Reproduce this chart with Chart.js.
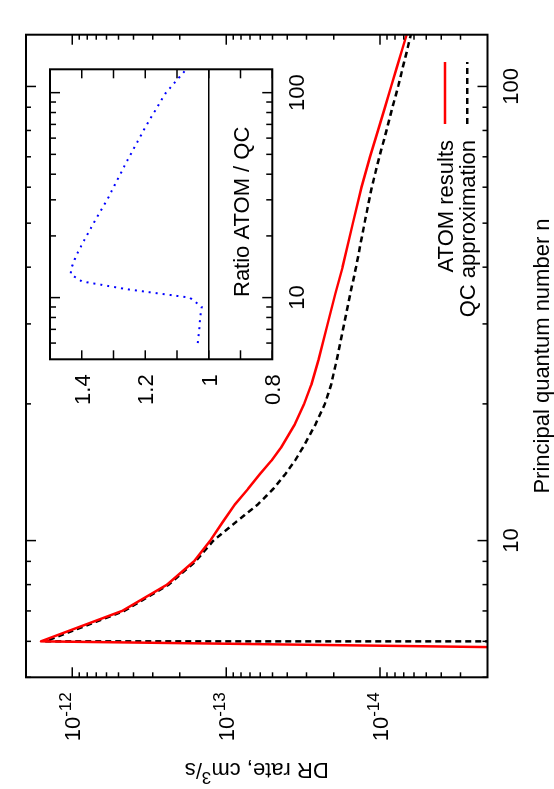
<!DOCTYPE html>
<html>
<head>
<meta charset="utf-8">
<script src="https://cdn.jsdelivr.net/npm/chart.js@4.4.1/dist/chart.umd.min.js"></script>
<style>
html, body { margin: 0; padding: 0; background: #fff; overflow: hidden; }
/* the figure is drawn landscape and turned a quarter turn, like the original */
#wrap { position: absolute; left: 0; top: 0; width: 789px; height: 554px;
        transform-origin: 0 0; transform: translateY(789px) rotate(-90deg); }
#wrap canvas { position: absolute; left: 0; top: 0; }
</style>
</head>
<body>
<div id="wrap">
  <canvas id="mainChart" width="789" height="554"></canvas>
  <canvas id="insetChart" width="789" height="554"></canvas>
</div>
<script>
// DR rate vs principal quantum number n
const nAtom = [5, 6, 7, 8, 9, 10, 11, 12, 13, 14, 15, 16, 18, 20, 22, 25, 30, 35, 40, 50, 60, 70, 80, 90, 100, 110, 120, 130];
const rateAtom = [1e-30, 1.6e-12, 4.75e-13, 2.42e-13, 1.62e-13, 1.27e-13, 1.05e-13, 8.8e-14, 7.2e-14, 6.04e-14, 5.08e-14, 4.41e-14,
                  3.59e-14, 3.11e-14, 2.80e-14, 2.51e-14, 2.19e-14, 1.95e-14, 1.75e-14, 1.50e-14, 1.32e-14, 1.16e-14,
                  1.03e-14, 9.28e-15, 8.46e-15, 7.78e-15, 7.2e-15, 6.71e-15];
const nQC = [6, 6, 7, 8, 9, 10, 11, 12, 13, 14, 15, 16, 18, 20, 22, 25, 30, 35, 40, 50, 60, 70, 80, 90, 100, 110, 120, 130];
const rateQC = [1e-30, 1.5e-12, 4.6e-13, 2.36e-13, 1.58e-13, 1.21e-13, 8.6e-14, 6.24e-14, 4.94e-14, 4.13e-14, 3.57e-14, 3.18e-14,
                2.63e-14, 2.28e-14, 2.08e-14, 1.91e-14, 1.71e-14, 1.56e-14, 1.43e-14, 1.26e-14, 1.13e-14, 1.01e-14,
                9.07e-15, 8.29e-15, 7.62e-15, 7.11e-15, 6.67e-15, 6.3e-15];

// inset: ratio ATOM / QC
const nRatio = [6, 7, 8, 9, 10, 11, 12, 13, 14, 16, 20, 25, 30, 45, 70, 100, 130];
const ratioAtomQC = [1.035, 1.03, 1.027, 1.022, 1.06, 1.26, 1.40, 1.435, 1.432, 1.418, 1.385, 1.35, 1.32, 1.262, 1.195, 1.135, 1.071];
const unityN = [5, 130];
const unityRatio = [1, 1];

// ticks
const nMajorTicks = [10, 100];
const nTickLabels = ['10', '100'];
const nMinorTicks = [5, 6, 7, 8, 9, 20, 30, 40, 50, 60, 70, 80, 90];
const rateMajorTicks = [1e-12, 1e-13, 1e-14];
const rateTickExponents = ['-12', '-13', '-14'];
const rateMinorTicks = [3e-15, 4e-15, 5e-15, 6e-15, 7e-15, 8e-15, 9e-15,
                        2e-14, 3e-14, 4e-14, 5e-14, 6e-14, 7e-14, 8e-14, 9e-14,
                        2e-13, 3e-13, 4e-13, 5e-13, 6e-13, 7e-13, 8e-13, 9e-13];
const ratioTicks = [0.8, 0.9, 1.0, 1.1, 1.2, 1.3, 1.4, 1.5];
const ratioLabelTicks = [0.8, 1.0, 1.2, 1.4];
const ratioTickLabels = ['0.8', '1', '1.2', '1.4'];

const FONT = '22px "Liberation Sans", Arial, sans-serif';
const SUP_FONT = '17px "Liberation Sans", Arial, sans-serif';

const toXY = (xs, ys) => xs.map((x, i) => ({x: x, y: ys[i]}));

function drawSupText(ctx, parts, x, y, align) {
    let w = 0;
    parts.forEach(p => { ctx.font = p[1] ? SUP_FONT : FONT; w += ctx.measureText(p[0]).width; });
    let cx = align === 'right' ? x - w : (align === 'center' ? x - w / 2 : x);
    ctx.textAlign = 'left';
    ctx.textBaseline = 'alphabetic';
    parts.forEach(p => {
        ctx.font = p[1] ? SUP_FONT : FONT;
        ctx.fillText(p[0], cx, p[1] ? y - 9 : y);
        cx += ctx.measureText(p[0]).width;
    });
}

// inward ticks on all four sides of the box
function boxTicks(ctx, a, xs, ys, xVals, xLen, yVals, yLen) {
    ctx.beginPath();
    xVals.forEach(v => {
        const px = xs.getPixelForValue(v);
        ctx.moveTo(px, a.bottom); ctx.lineTo(px, a.bottom - xLen);
        ctx.moveTo(px, a.top); ctx.lineTo(px, a.top + xLen);
    });
    yVals.forEach(v => {
        const py = ys.getPixelForValue(v);
        ctx.moveTo(a.left, py); ctx.lineTo(a.left + yLen, py);
        ctx.moveTo(a.right, py); ctx.lineTo(a.right - yLen, py);
    });
    ctx.stroke();
}

const mainDecor = {
    id: 'mainDecor',
    afterDraw(chart) {
        const ctx = chart.ctx, a = chart.chartArea;
        const xs = chart.scales.x, ys = chart.scales.y;
        ctx.save();
        ctx.strokeStyle = '#000';
        ctx.fillStyle = '#000';
        ctx.lineWidth = 1.5;
        boxTicks(ctx, a, xs, ys, nMajorTicks, 10, rateMajorTicks, 10);
        boxTicks(ctx, a, xs, ys, nMinorTicks, 5, rateMinorTicks, 5);
        ctx.lineWidth = 2;
        ctx.strokeRect(a.left, a.top, a.right - a.left, a.bottom - a.top);

        // tick labels
        ctx.font = FONT;
        ctx.textAlign = 'center';
        ctx.textBaseline = 'alphabetic';
        nMajorTicks.forEach((v, i) => ctx.fillText(nTickLabels[i], xs.getPixelForValue(v), a.bottom + 30));
        rateMajorTicks.forEach((v, i) => {
            drawSupText(ctx, [['10', 0], [rateTickExponents[i], 1]], a.left - 15, ys.getPixelForValue(v) + 8, 'right');
        });

        // axis titles
        ctx.font = FONT;
        ctx.textAlign = 'center';
        ctx.fillText('Principal quantum number n', (a.left + a.right) / 2, 549);
        ctx.save();
        ctx.translate(18, (a.top + a.bottom) / 2);
        ctx.rotate(-Math.PI / 2);
        drawSupText(ctx, [['DR rate, cm', 0], ['3', 1], ['/s', 0]], 0, 8, 'center');
        ctx.restore();

        // key, gnuplot style: text then sample
        const rows = [
            {label: 'ATOM results', color: '#ff0000', dash: [], v: 445},
            {label: 'QC approximation', color: '#000000', dash: [6, 4], v: 467.3}
        ];
        rows.forEach(r => {
            ctx.font = FONT;
            ctx.textAlign = 'right';
            ctx.fillStyle = '#000';
            ctx.fillText(r.label, 649, r.v + 8);
            ctx.beginPath();
            ctx.strokeStyle = r.color;
            ctx.lineWidth = 2.5;
            ctx.setLineDash(r.dash);
            ctx.moveTo(665, r.v);
            ctx.lineTo(727, r.v);
            ctx.stroke();
            ctx.setLineDash([]);
        });
        ctx.restore();
    }
};

const insetDecor = {
    id: 'insetDecor',
    afterDraw(chart) {
        const ctx = chart.ctx, a = chart.chartArea;
        const xs = chart.scales.x, ys = chart.scales.y;
        ctx.save();
        ctx.strokeStyle = '#000';
        ctx.fillStyle = '#000';
        ctx.lineWidth = 1.5;
        boxTicks(ctx, a, xs, ys, nMajorTicks, 10, ratioTicks, 9);
        boxTicks(ctx, a, xs, ys, nMinorTicks.filter(v => v > 5), 6, [], 0);
        ctx.lineWidth = 2;
        ctx.strokeRect(a.left, a.top, a.right - a.left, a.bottom - a.top);

        ctx.font = FONT;
        ctx.textBaseline = 'alphabetic';
        ctx.textAlign = 'center';
        nMajorTicks.forEach((v, i) => ctx.fillText(nTickLabels[i], xs.getPixelForValue(v), a.bottom + 32));
        ctx.textAlign = 'right';
        ratioLabelTicks.forEach((v, i) => ctx.fillText(ratioTickLabels[i], a.left - 15, ys.getPixelForValue(v) + 8));

        ctx.textAlign = 'left';
        ctx.fillText('Ratio ATOM / QC', 492, 249);
        ctx.restore();
    }
};

new Chart(document.getElementById('mainChart'), {
    type: 'line',
    data: {
        datasets: [
            {
                label: 'ATOM results',
                data: toXY(nAtom, rateAtom),
                borderColor: '#ff0000',
                borderWidth: 2.5,
                borderJoinStyle: 'round',
                pointRadius: 0,
                tension: 0
            },
            {
                label: 'QC approximation',
                data: toXY(nQC, rateQC),
                borderColor: '#000000',
                borderWidth: 2.5,
                borderDash: [6, 4],
                borderJoinStyle: 'round',
                pointRadius: 0,
                tension: 0
            }
        ]
    },
    options: {
        responsive: false,
        animation: false,
        events: [],
        layout: {padding: {left: 111.7, right: 34.7, top: 26, bottom: 66.5}},
        scales: {
            x: {type: 'logarithmic', min: 5, max: 130, display: false},
            y: {type: 'logarithmic', min: 2e-15, max: 2e-12, display: false}
        },
        plugins: {legend: {display: false}, tooltip: {enabled: false}}
    },
    plugins: [mainDecor]
});

new Chart(document.getElementById('insetChart'), {
    type: 'line',
    data: {
        datasets: [
            {
                label: 'Ratio ATOM / QC',
                data: toXY(nRatio, ratioAtomQC),
                borderColor: '#0000ff',
                borderWidth: 2,
                borderDash: [2, 5],
                borderJoinStyle: 'round',
                pointRadius: 0,
                tension: 0
            },
            {
                label: 'unity',
                data: toXY(unityN, unityRatio),
                borderColor: '#000000',
                borderWidth: 1.5,
                pointRadius: 0,
                tension: 0
            }
        ]
    },
    options: {
        responsive: false,
        animation: false,
        events: [],
        layout: {padding: {left: 429.7, right: 69.3, top: 50, bottom: 281.7}},
        scales: {
            x: {type: 'logarithmic', min: 5, max: 130, display: false},
            y: {type: 'linear', min: 0.8, max: 1.5, display: false}
        },
        plugins: {legend: {display: false}, tooltip: {enabled: false}}
    },
    plugins: [insetDecor]
});
</script>
</body>
</html>
